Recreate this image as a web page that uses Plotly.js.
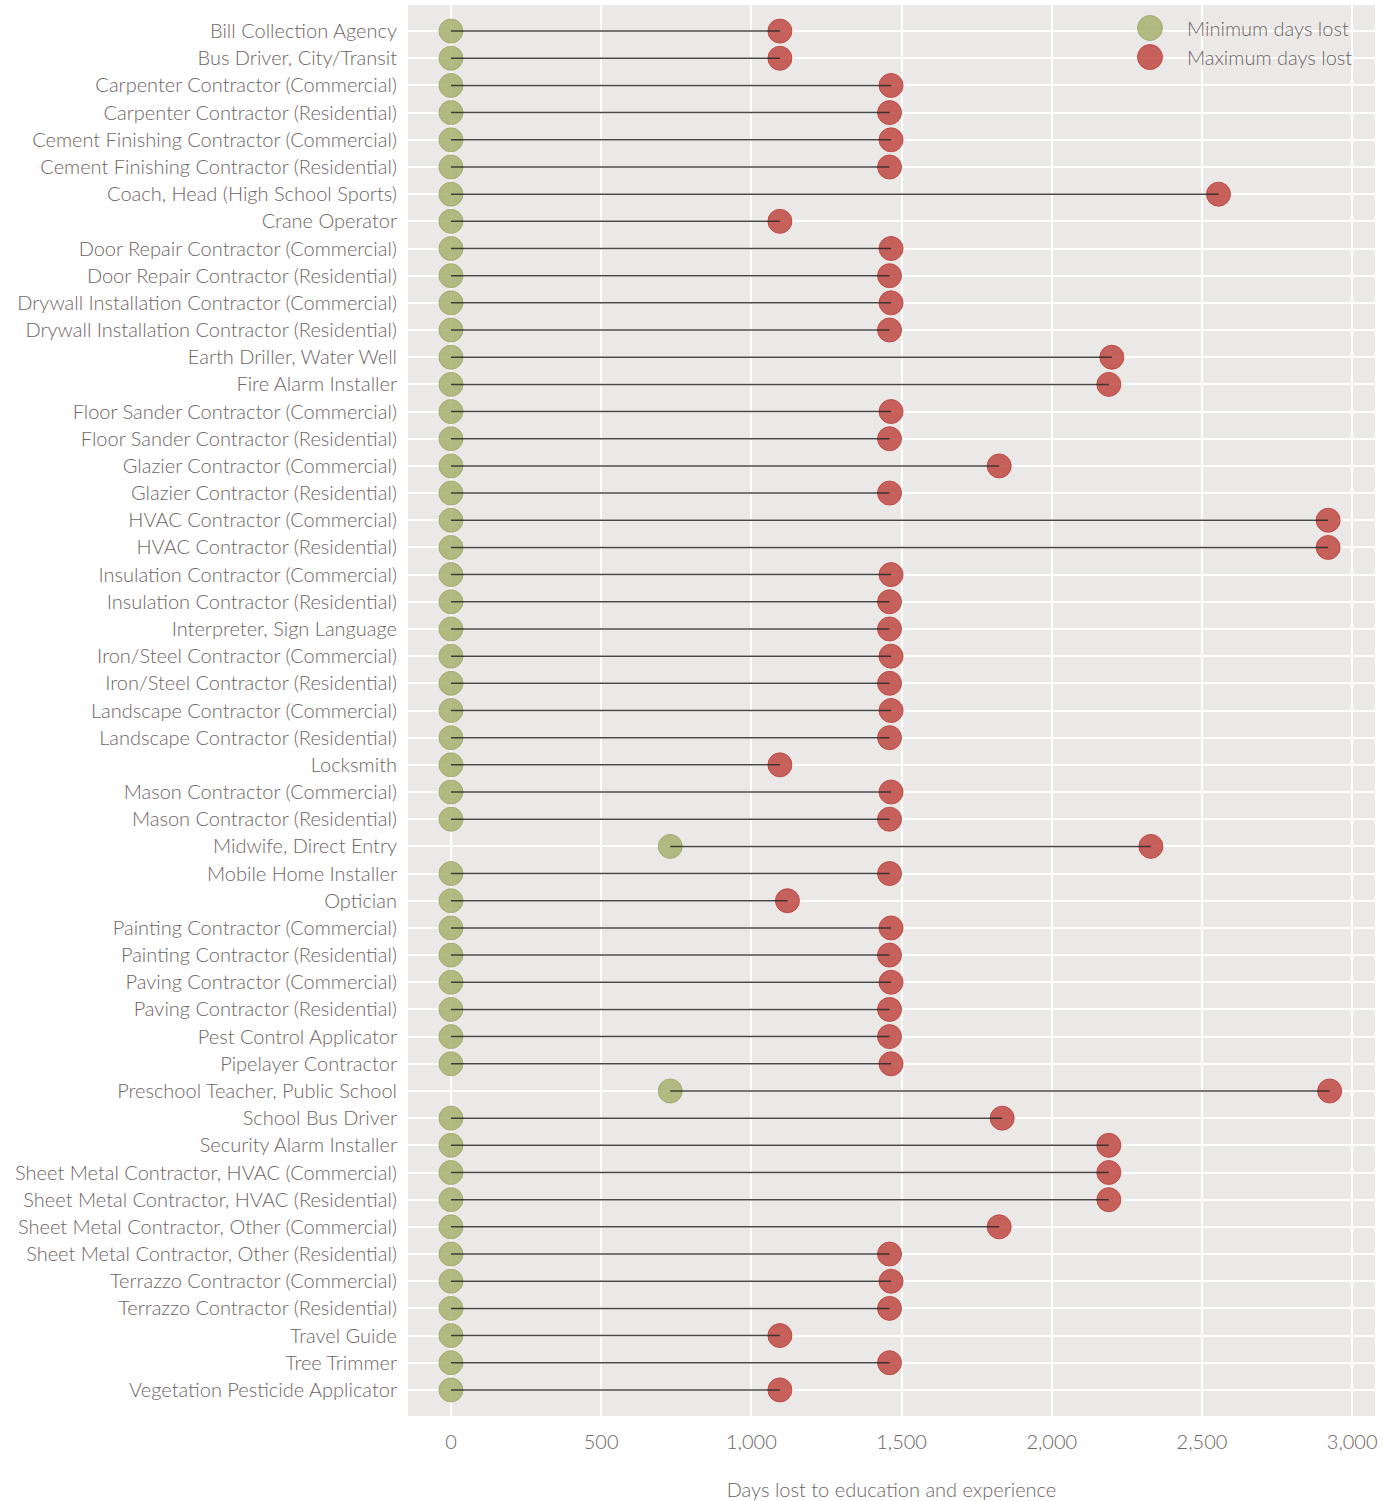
<!DOCTYPE html>
<html>
<head>
<meta charset="utf-8">
<script src="https://cdn.plot.ly/plotly-3.0.1.min.js"></script>
<style>body{margin:0;background:#fff;}#chart{width:1384px;height:1501px;}</style>
</head>
<body>
<div id="chart"></div>
<script>
const occupations = [
  "Bill Collection Agency","Bus Driver, City/Transit","Carpenter Contractor (Commercial)","Carpenter Contractor (Residential)",
  "Cement Finishing Contractor (Commercial)","Cement Finishing Contractor (Residential)","Coach, Head (High School Sports)","Crane Operator",
  "Door Repair Contractor (Commercial)","Door Repair Contractor (Residential)","Drywall Installation Contractor (Commercial)","Drywall Installation Contractor (Residential)",
  "Earth Driller, Water Well","Fire Alarm Installer","Floor Sander Contractor (Commercial)","Floor Sander Contractor (Residential)",
  "Glazier Contractor (Commercial)","Glazier Contractor (Residential)","HVAC Contractor (Commercial)","HVAC Contractor (Residential)",
  "Insulation Contractor (Commercial)","Insulation Contractor (Residential)","Interpreter, Sign Language","Iron/Steel Contractor (Commercial)",
  "Iron/Steel Contractor (Residential)","Landscape Contractor (Commercial)","Landscape Contractor (Residential)","Locksmith",
  "Mason Contractor (Commercial)","Mason Contractor (Residential)","Midwife, Direct Entry","Mobile Home Installer",
  "Optician","Painting Contractor (Commercial)","Painting Contractor (Residential)","Paving Contractor (Commercial)",
  "Paving Contractor (Residential)","Pest Control Applicator","Pipelayer Contractor","Preschool Teacher, Public School",
  "School Bus Driver","Security Alarm Installer","Sheet Metal Contractor, HVAC (Commercial)","Sheet Metal Contractor, HVAC (Residential)",
  "Sheet Metal Contractor, Other (Commercial)","Sheet Metal Contractor, Other (Residential)","Terrazzo Contractor (Commercial)","Terrazzo Contractor (Residential)",
  "Travel Guide","Tree Trimmer","Vegetation Pesticide Applicator"
];
const minDays = [
  0,0,0,0, 0,0,0,0, 0,0,0,0, 0,0,0,0, 0,0,0,0, 0,0,0,0, 0,0,0,0, 0,0,730,0,
  0,0,0,0, 0,0,0,730, 0,0,0,0, 0,0,0,0, 0,0,0
];
const maxDays = [
  1095,1095,1465,1460, 1465,1460,2555,1095, 1465,1460,1465,1460,
  2200,2190,1465,1460, 1825,1460,2920,2920, 1465,1460,1460,1465,
  1460,1465,1460,1095, 1465,1460,2330,1460, 1120,1465,1460,1465,
  1460,1460,1465,2925, 1835,2190,2190,2190, 1825,1460,1465,1460,
  1095,1460,1095
];
const seriesNames = ["Minimum days lost","Maximum days lost"];
const xTicks = [0,500,1000,1500,2000,2500,3000];
const xTickText = ["0","500","1,000","1,500","2,000","2,500","3,000"];

const greenFill = "rgba(166,176,108,0.85)", greenLine = "rgba(160,170,105,0.9)";
const redFill = "rgba(192,72,66,0.85)", redLine = "rgba(190,68,62,0.9)";

const lx = [], ly = [];
occupations.forEach((o,i)=>{ lx.push(minDays[i], maxDays[i], null); ly.push(o, o, null); });

const txt = "#6e6464";
const fontFam = "Lato, 'Open Sans', sans-serif";
const traces = [
  {type:"scatter", mode:"markers", name:seriesNames[0], x:minDays, y:occupations, showlegend:false,
   marker:{size:24, color:greenFill, line:{color:greenLine, width:1}}},
  {type:"scatter", mode:"markers", name:seriesNames[1], x:maxDays, y:occupations, showlegend:false,
   marker:{size:24, color:redFill, line:{color:redLine, width:1}}},
  {type:"scatter", mode:"lines", x:lx, y:ly, showlegend:false, hoverinfo:"skip",
   line:{color:"rgba(40,40,40,0.85)", width:1.5}}
];

// custom legend (large symbols like the reference)
const legX = 0.7673, legTextX = 0.8035, legY = [0.9837, 0.9631];
const legFills = [[greenFill, greenLine],[redFill, redLine]];
const shapes = legY.map((y,i)=>({type:"circle", xref:"paper", yref:"paper", xsizemode:"pixel", ysizemode:"pixel",
  xanchor:legX, yanchor:y, x0:-12.5, x1:12.5, y0:-12.5, y1:12.5,
  fillcolor:legFills[i][0], line:{color:legFills[i][1], width:1}}));
const annotations = legY.map((y,i)=>({xref:"paper", yref:"paper", x:legTextX, y:y, xanchor:"left", yanchor:"middle",
  text:seriesNames[i], showarrow:false, font:{size:20, color:txt, family:fontFam, weight:300}}));

const layout = {
  width:1384, height:1501,
  paper_bgcolor:"#ffffff", plot_bgcolor:"#ebe9e7",
  margin:{l:408, r:9, t:5, b:85},
  font:{family:fontFam, color:txt, size:20, weight:300},
  showlegend:false,
  shapes:shapes, annotations:annotations,
  xaxis:{range:[-143,3076], tickvals:xTicks, ticktext:xTickText, showgrid:true, gridcolor:"#ffffff", gridwidth:2,
         zeroline:false, showline:false, ticks:"", ticklabelstandoff:12,
         tickfont:{size:20, color:txt, family:fontFam, weight:300},
         title:{text:"Days lost to education and experience", font:{size:20, color:txt, family:fontFam, weight:300}, standoff:30}},
  yaxis:{type:"category", categoryorder:"array", categoryarray:occupations, range:[50.96,-0.96],
         showgrid:true, gridcolor:"#ffffff", gridwidth:2, zeroline:false, showline:false, ticks:"",
         ticklabelstandoff:10, tickfont:{size:20, color:txt, family:fontFam, weight:300}}
};
Plotly.newPlot("chart", traces, layout, {displayModeBar:false, staticPlot:true});
</script>
</body>
</html>
